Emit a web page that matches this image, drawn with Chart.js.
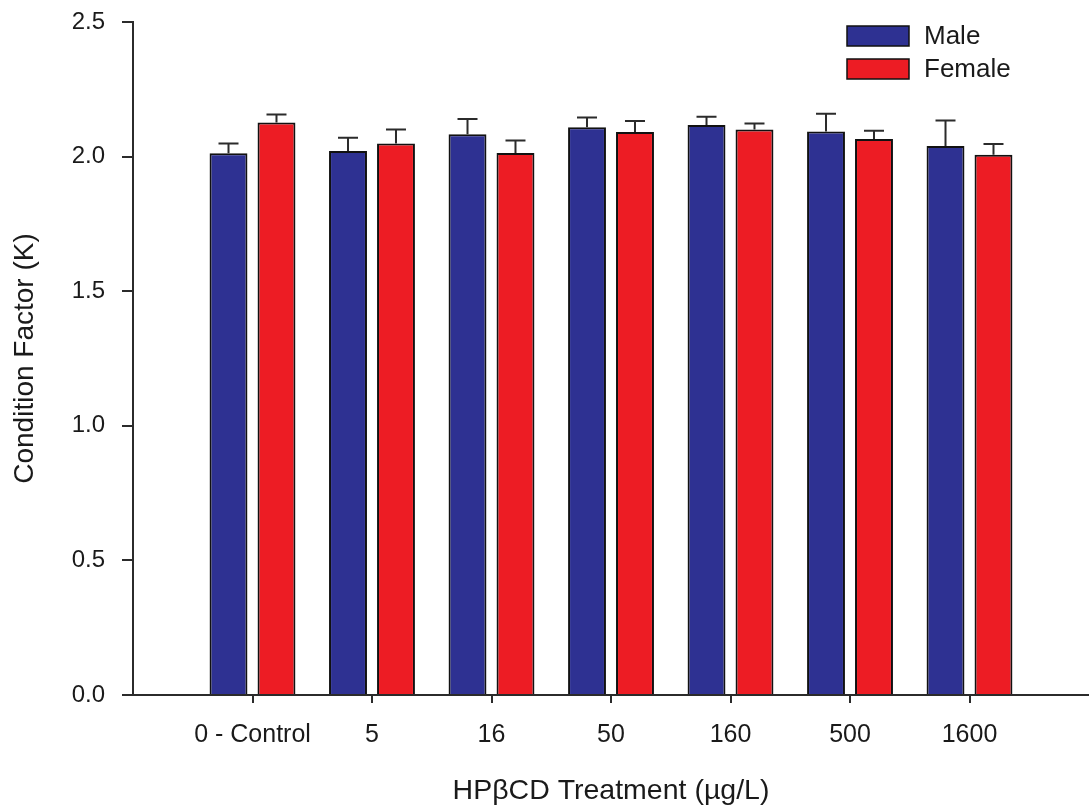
<!DOCTYPE html>
<html>
<head>
<meta charset="utf-8">
<script src="https://cdn.jsdelivr.net/npm/chart.js@4.4.1/dist/chart.umd.min.js"></script>
<style>
  html, body { margin: 0; padding: 0; background: #fff; }
  .wrap { width: 1089px; height: 810px; position: relative; }
</style>
</head>
<body>
<div class="wrap"><canvas id="kChart"></canvas></div>
<script>
// Condition factor by treatment group
const treatments = ["0 - Control", "5", "16", "50", "160", "500", "1600"];
const maleK = [2.012, 2.021, 2.083, 2.109, 2.117, 2.093, 2.039];
const maleErr = [0.037, 0.049, 0.057, 0.036, 0.031, 0.066, 0.095];
const femaleK = [2.127, 2.049, 2.013, 2.091, 2.101, 2.065, 2.007];
const femaleErr = [0.029, 0.052, 0.047, 0.041, 0.022, 0.031, 0.040];
const yTicks = [0, 0.5, 1.0, 1.5, 2.0, 2.5];

const fontFamily = "'Liberation Sans', Arial, sans-serif";
const inkColor = "#1a1a1a";

// one-sided error bars on top of each bar
const errorBars = {
    id: "errorBars",
    afterDatasetsDraw(chart) {
        const ctx = chart.ctx;
        const yScale = chart.scales.y;
        ctx.save();
        ctx.strokeStyle = "#2b2b2b";
        ctx.lineWidth = 2;
        chart.data.datasets.forEach((ds, di) => {
            const meta = chart.getDatasetMeta(di);
            meta.data.forEach((bar, i) => {
                const top = yScale.getPixelForValue(ds.data[i].y + ds.errors[i]);
                ctx.beginPath();
                ctx.moveTo(bar.x, bar.y);
                ctx.lineTo(bar.x, top);
                ctx.moveTo(bar.x - 10, top);
                ctx.lineTo(bar.x + 10, top);
                ctx.stroke();
            });
        });
        ctx.restore();
    }
};

// legend in the top right corner, stacked
const cornerLegend = {
    id: "cornerLegend",
    afterDraw(chart) {
        const ctx = chart.ctx;
        const area = chart.chartArea;
        const x = area.right - 242;
        ctx.save();
        ctx.font = "26px " + fontFamily;
        ctx.textBaseline = "middle";
        chart.data.datasets.forEach((ds, i) => {
            const y = area.top + 4 + i * 33;
            ctx.fillStyle = ds.backgroundColor;
            ctx.fillRect(x, y, 62, 20);
            ctx.strokeStyle = "#111";
            ctx.lineWidth = 1.5;
            ctx.strokeRect(x, y, 62, 20);
            ctx.fillStyle = inkColor;
            ctx.fillText(ds.label, x + 77, y + 11);
        });
        ctx.restore();
    }
};

const toPoints = (vals) => vals.map((v, i) => ({ x: i, y: v }));

new Chart(document.getElementById("kChart"), {
    type: "bar",
    data: {
        datasets: [
            {
                label: "Male",
                data: toPoints(maleK),
                errors: maleErr,
                backgroundColor: "#2e3192",
                borderColor: "#111",
                borderWidth: 2
            },
            {
                label: "Female",
                data: toPoints(femaleK),
                errors: femaleErr,
                backgroundColor: "#ed1c24",
                borderColor: "#111",
                borderWidth: 2
            }
        ]
    },
    options: {
        responsive: true,
        maintainAspectRatio: false,
        animation: false,
        categoryPercentage: 0.803,
        barPercentage: 0.79,
        layout: { padding: { top: 22, right: 0, left: 0, bottom: 0 } },
        plugins: {
            legend: { display: false },
            tooltip: { enabled: false }
        },
        scales: {
            x: {
                type: "linear",
                min: -1,
                max: 7,
                offset: false,
                afterBuildTicks: (scale) => {
                    scale.ticks = treatments.map((t, i) => ({ value: i }));
                },
                afterFit: (scale) => {
                    scale.height = 115;
                    scale.paddingLeft = 0;
                    scale.paddingRight = 0;
                },
                ticks: {
                    autoSkip: false,
                    maxRotation: 0,
                    padding: 17,
                    color: inkColor,
                    font: { family: fontFamily, size: 25 },
                    callback: (v) => treatments[v]
                },
                grid: {
                    offset: false,
                    drawOnChartArea: false,
                    drawTicks: true,
                    tickLength: 8,
                    color: "#2b2b2b",
                    lineWidth: 2
                },
                border: { display: true, color: "#2b2b2b", width: 2 },
                title: {
                    display: true,
                    text: "HPβCD Treatment (µg/L)",
                    color: inkColor,
                    font: { family: fontFamily, size: 28.5 },
                    padding: { top: 0, bottom: 2 }
                }
            },
            y: {
                min: 0,
                max: 2.5,
                afterBuildTicks: (scale) => {
                    scale.ticks = yTicks.map((v) => ({ value: v }));
                },
                afterFit: (scale) => {
                    scale.width = 133;
                    scale.paddingTop = 0;
                    scale.paddingBottom = 0;
                },
                ticks: {
                    padding: 17,
                    color: inkColor,
                    font: { family: fontFamily, size: 24 },
                    callback: (v) => v.toFixed(1)
                },
                grid: {
                    drawOnChartArea: false,
                    drawTicks: true,
                    tickLength: 11,
                    color: "#2b2b2b",
                    lineWidth: 2
                },
                border: { display: true, color: "#2b2b2b", width: 2 },
                title: {
                    display: true,
                    text: "Condition Factor (K)",
                    color: inkColor,
                    font: { family: fontFamily, size: 28 },
                    padding: { top: 8, bottom: 0 }
                }
            }
        }
    },
    plugins: [errorBars, cornerLegend]
});
</script>
</body>
</html>
